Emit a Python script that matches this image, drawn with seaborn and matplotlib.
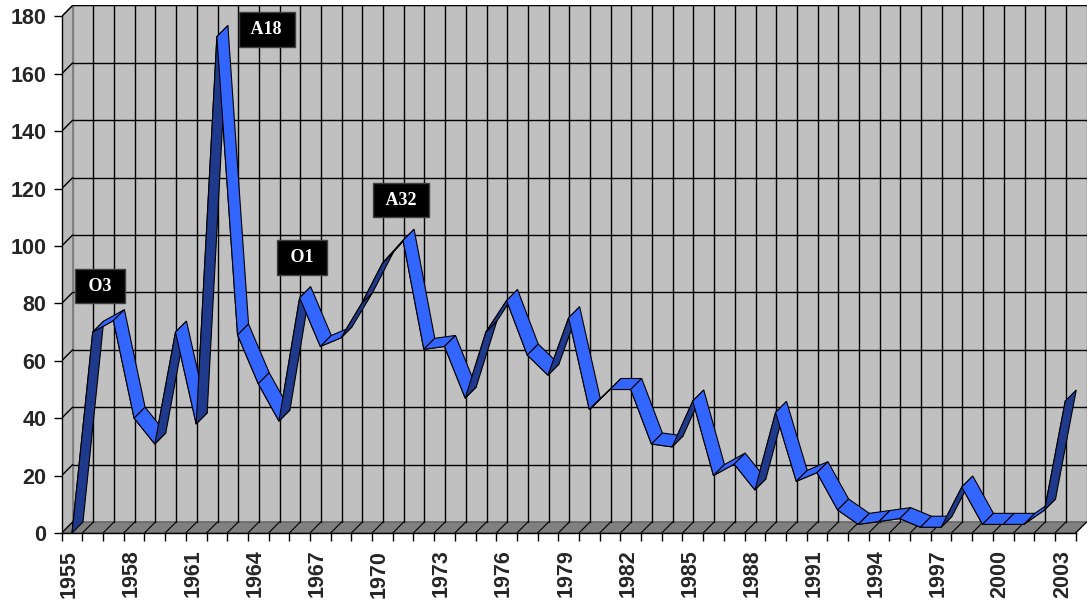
import matplotlib
matplotlib.use("Agg")
import matplotlib.pyplot as plt
import matplotlib.transforms as mtransforms
from matplotlib.patches import Polygon
import numpy as np
import pandas as pd
import seaborn as sns

# data
years = list(range(1955, 2004))
values = [0, 70, 74, 40, 31, 70, 38, 173, 69, 52,
          39, 82, 65, 68, 80, 94, 102, 64, 65, 47,
          70, 81, 62, 55, 75, 43, 50, 50, 31, 30,
          46, 20, 24, 15, 42, 18, 21, 8, 3, 4,
          5, 2, 2, 16, 3, 3, 3, 8, 46]

# annotations (text, x, y of box centre)
note_text = ["O3", "A18", "O1", "A32"]
note_x = [1956.35, 1964.42, 1966.11, 1970.91]
note_y = [86, 175.5, 96, 116]

tick_years = list(range(1955, 2004, 3))
y_ticks = list(range(0, 181, 20))

# depth offset of the fake 3d look (data units)
DX, DY = 0.53, 3.84
LIGHT = "#3366ff"
DARK = "#1f3a8c"
WALL = "#c0c0c0"
FLOOR = "#808080"

sns.set_theme(style="white")
plt.rcParams["font.family"] = ["Liberation Sans", "DejaVu Sans"]

df = pd.DataFrame({"year": years, "value": values})

fig = plt.figure(figsize=(10.88, 6.06), dpi=100)
ax = fig.add_axes([0.0567, 0.1205, 0.942, 0.8705])

x0, x1 = years[0] - 0.5, years[-1] + 0.5
ytop = y_ticks[-1]
ax.set_xlim(x0, x1 + DX)
ax.set_ylim(0, ytop + DY)

# walls and floor
ax.add_patch(Polygon([(x0 + DX, DY), (x1 + DX, DY), (x1 + DX, ytop + DY), (x0 + DX, ytop + DY)],
                     closed=True, fc=WALL, ec="#808080", lw=1, zorder=0))
ax.add_patch(Polygon([(x0, 0), (x0 + DX, DY), (x0 + DX, ytop + DY), (x0, ytop)],
                     closed=True, fc="#bababa", ec="#808080", lw=1, zorder=0))
ax.add_patch(Polygon([(x0, 0), (x1, 0), (x1 + DX, DY), (x0 + DX, DY)],
                     closed=True, fc=FLOOR, ec="#606060", lw=1, zorder=0.5))

# gridlines on back wall, left wall and floor
for v in y_ticks[1:]:
    ax.plot([x0 + DX, x1 + DX], [v + DY, v + DY], color="black", lw=1, zorder=1)
    ax.plot([x0, x0 + DX], [v, v + DY], color="black", lw=1, zorder=1)
bounds = np.arange(x0, x1 + 0.01, 1.0)
for b in bounds[1:-1]:
    ax.plot([b + DX, b + DX], [DY, ytop + DY], color="black", lw=1, zorder=1)
for b in bounds:
    ax.plot([b, b + DX], [0, DY], color="black", lw=0.8, zorder=1)

# ribbon faces
for i in range(len(years) - 1):
    xa, ya = years[i], values[i]
    xb, yb = years[i + 1], values[i + 1]
    cross = (xb - xa) * DY - (yb - ya) * DX
    col = LIGHT if cross >= 0 else DARK
    ax.add_patch(Polygon([(xa, ya), (xb, yb), (xb + DX, yb + DY), (xa + DX, ya + DY)],
                         closed=True, fc=col, ec="black", lw=0.8, zorder=3 + i * 0.01))

sns.lineplot(data=df, x="year", y="value", color="black", lw=0.8, ax=ax, zorder=2.5)

# labels
for t, lx, ly in zip(note_text, note_x, note_y):
    ax.text(lx, ly, " " + t + " ", ha="center", va="center", color="white", fontsize=13,
            fontweight="bold", family=["Liberation Serif", "DejaVu Serif"], zorder=10,
            bbox=dict(boxstyle="square,pad=0.48", fc="black", ec="#404040", lw=1))

# front axes
for s in ["top", "right"]:
    ax.spines[s].set_visible(False)
ax.spines["left"].set_bounds(0, ytop)
ax.spines["bottom"].set_bounds(x0, x1)
for s in ["left", "bottom"]:
    ax.spines[s].set_color("black")
    ax.spines[s].set_linewidth(1)
    ax.spines[s].set_zorder(4)

ax.set_yticks(y_ticks)
ax.set_yticklabels([str(v) for v in y_ticks], fontsize=15.5, fontweight="bold")
ax.set_xticks(tick_years)
ax.set_xticklabels([str(y) for y in tick_years], rotation=90, fontsize=15.5, fontweight="bold")
ax.set_xticks(bounds, minor=True)
ax.tick_params(axis="x", which="major", length=0, pad=12)
ax.tick_params(axis="x", which="minor", length=6, width=1, color="black", direction="out")
ax.tick_params(axis="y", length=6, width=1, color="black", direction="out", pad=5, left=True)
ax.tick_params(axis="x", bottom=True, which="both")
shift = mtransforms.ScaledTranslation(-3 / 100, 0, fig.dpi_scale_trans)
for lab in ax.get_xticklabels():
    lab.set_transform(lab.get_transform() + shift)
ax.set_xlabel("")
ax.set_ylabel("")
ax.grid(False)
ax.set_facecolor("white")
ax.patch.set_alpha(0)

fig.savefig("out.png", dpi=100)
